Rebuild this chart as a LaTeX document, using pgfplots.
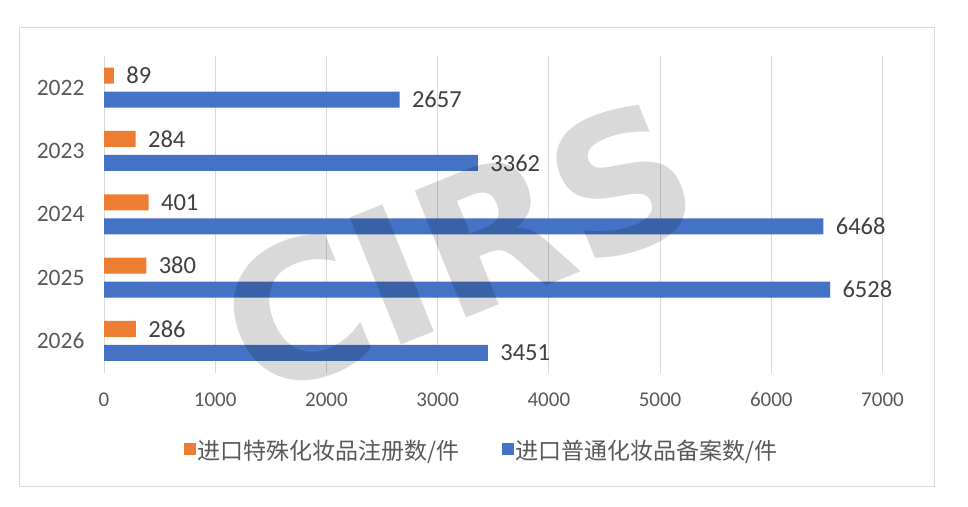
\documentclass[border=0pt]{standalone}
\usepackage{pgfplots}
\pgfplotsset{compat=1.18}
\usepackage{fontspec}
\setmainfont{Carlito}
\newfontfamily\cjk{Noto Sans CJK SC}
\newfontfamily\wmfont{DejaVu Sans Bold}
\definecolor{orng}{HTML}{ED7D31}
\definecolor{blu}{HTML}{4472C4}
\definecolor{txt}{HTML}{595959}
\definecolor{lbl}{HTML}{404040}
\definecolor{grd}{HTML}{D9D9D9}
\begin{document}
\begin{tikzpicture}[x=1pt,y=1pt]
\useasboundingbox (0,0) rectangle (968,506);
\fill[white] (0,0) rectangle (968,506);
\draw[grd, line width=1pt] (19.5,19.5) rectangle (934.5,478.5);
\begin{axis}[
  at={(104pt,133.5pt)}, anchor=south west,
  scale only axis, width=778.5pt, height=316.5pt,
  xbar, bar width=16pt,
  xmin=0, xmax=7000, ymin=-0.5, ymax=4.5, y dir=reverse,
  ytick={0,1,2,3,4}, yticklabels={2022,2023,2024,2025,2026},
  xtick={0,1000,...,7000},
  xmajorgrids, grid style={grd, line width=1pt},
  axis line style={draw=none}, major tick length=0pt,
  scaled x ticks=false,
  /pgf/number format/1000 sep={},
  /pgf/number format/assume math mode=true,
  xticklabel style={font=\fontsize{21}{21}\selectfont, text=txt, anchor=center, text height=13pt, text depth=0pt, yshift=-27pt},
  yticklabel style={font=\fontsize{23.5}{23.5}\selectfont, text=txt, xshift=-16pt},
  point meta=explicit symbolic,
  nodes near coords,
  nodes near coords style={font=\fontsize{24.5}{24.5}\selectfont, text=lbl, anchor=west, xshift=9pt},
  legend columns=2,
  legend image code/.code={\fill[#1] (0pt,-5pt) rectangle (12pt,7pt);},
  legend style={at={(0.485,-0.245)}, anchor=center, draw=none, fill=none,
    font=\cjk\fontsize{23}{23}\selectfont, text=txt,
    /tikz/every even column/.append style={column sep=40pt}},
]
\addplot[fill=orng, draw=none, bar shift=12pt] coordinates {
  (89,0) [89] (284,1) [284] (401,2) [401] (380,3) [380] (286,4) [286]};
\addlegendentry{进口特殊化妆品注册数/件}
\addplot[fill=blu, draw=none, bar shift=-12pt] coordinates {
  (2657,0) [2657] (3362,1) [3362] (6468,2) [6468] (6528,3) [6528] (3451,4) [3451]};
\addlegendentry{进口普通化妆品备案数/件}
\end{axis}
\node[rotate=22, text=black, text opacity=0.15, font=\wmfont\fontsize{188}{188}\selectfont, inner sep=0pt] at (458,258) {CIRS};
\end{tikzpicture}
\end{document}
